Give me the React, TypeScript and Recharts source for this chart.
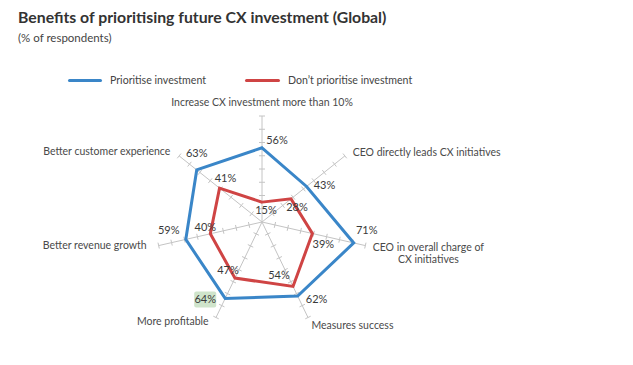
import React from 'react';
import { RadarChart, Radar, PolarAngleAxis, PolarRadiusAxis, Legend } from 'recharts';

const categories = [
  'Increase CX investment more than 10%',
  'CEO directly leads CX initiatives',
  'CEO in overall charge of\nCX initiatives',
  'Measures success',
  'More profitable',
  'Better revenue growth',
  'Better customer experience',
];
const prioritise = [56, 43, 71, 62, 64, 59, 63];
const dontPrioritise = [15, 28, 39, 54, 47, 40, 41];
const radiusTicks = [10, 20, 30, 40, 50, 60, 70, 80];
const seriesNames = ['Prioritise investment', 'Don\u2019t prioritise investment'];

const data = categories.map((c, i) => {
  const row: any = { cat: c, a: prioritise[i], b: dontPrioritise[i] };
  radiusTicks.forEach((t) => {
    row[`t${t}`] = t;
  });
  return row;
});

const FONT = "Lato, 'Open Sans', sans-serif";
const BLUE = '#3a86c8';
const RED = '#cf4444';
const TEXT = '#3a3a3a';
const AXIS = '#c4c4c4';

const CX = 262;
const CY = 222;
const R = 106;

const blueOffsets = [[15, -8], [18, -1], [13, -13], [19, 3], [-20, 1], [-17, -9], [0, -17]];
const redOffsets = [[4, 8], [6, 8], [11, 11], [-14, -11], [-7, -8], [-5, -7], [6, -10]];
const catOffsets: Array<{ dx: number; dy: number; anchor: 'start' | 'middle' | 'end' }> = [
  { dx: 0, dy: -13, anchor: 'middle' },
  { dx: 7, dy: -3, anchor: 'start' },
  { dx: 62, dy: 2, anchor: 'middle' },
  { dx: 3, dy: 7, anchor: 'start' },
  { dx: -7, dy: 3, anchor: 'end' },
  { dx: -11, dy: 0, anchor: 'end' },
  { dx: -8, dy: -4, anchor: 'end' },
];

const makeTickShape = (isOuter: boolean) => (props: any) => {
  const pts: any[] = props.points || [];
  return (
    <g>
      {pts.map((p, i) => {
        const rad = (p.angle * Math.PI) / 180;
        const px = Math.sin(rad) * 3;
        const py = Math.cos(rad) * 3;
        return (
          <g key={i}>
            {isOuter && (
              <line x1={p.cx} y1={p.cy} x2={p.x} y2={p.y} stroke={AXIS} strokeWidth={1} />
            )}
            <line x1={p.x - px} y1={p.y - py} x2={p.x + px} y2={p.y + py} stroke={AXIS} strokeWidth={1} />
          </g>
        );
      })}
    </g>
  );
};

const makeDot = (values: number[], offsets: number[][], highlight?: number) => (props: any) => {
  const { cx, cy, index } = props;
  const [dx, dy] = offsets[index];
  const tx = cx + dx;
  const ty = cy + dy;
  return (
    <g key={`d-${index}`}>
      {highlight === index && (
        <rect x={tx - 11} y={ty - 8} width={22} height={16} rx={2} fill="#cfe4cb" />
      )}
      <text x={tx} y={ty} dy="0.35em" textAnchor="middle" fontSize={11} fill={TEXT} fontFamily={FONT}>
        {values[index]}%
      </text>
    </g>
  );
};

const AngleTick = (props: any) => {
  const { x, y, index } = props;
  const o = catOffsets[index];
  const lines = categories[index].split('\n');
  return (
    <text x={x + o.dx} y={y + o.dy} textAnchor={o.anchor} fontSize={10.5} fill="#4a4a4a" fontFamily={FONT}>
      {lines.map((l, k) => (
        <tspan key={k} x={x + o.dx} dy={k === 0 ? '0.35em' : '1.1em'}>
          {l}
        </tspan>
      ))}
    </text>
  );
};

const LegendContent = () => (
  <div style={{ display: 'flex', alignItems: 'center', fontFamily: FONT, fontSize: 10.6, color: '#444' }}>
    <div style={{ width: 34, height: 3, background: BLUE, borderRadius: 2, marginRight: 8 }} />
    <span style={{ display: 'inline-block', width: 135 }}>{seriesNames[0]}</span>
    <div style={{ width: 35, height: 3, background: RED, borderRadius: 2, marginRight: 8 }} />
    <span>{seriesNames[1]}</span>
  </div>
);

export default function App() {
  return (
    <div style={{ position: 'absolute', left: 0, top: 0, width: 633, height: 365, background: '#fff' }}>
      <div style={{ position: 'absolute', left: 18, top: 7, fontFamily: FONT, fontWeight: 700, fontSize: 15.8, color: '#333', whiteSpace: 'nowrap' }}>
        Benefits of prioritising future CX investment (Global)
      </div>
      <div style={{ position: 'absolute', left: 18, top: 31, fontFamily: FONT, fontSize: 11.5, color: '#444', whiteSpace: 'nowrap' }}>
        (% of respondents)
      </div>
      <RadarChart width={633} height={365} data={data} cx={CX} cy={CY} outerRadius={R} margin={{ top: 0, right: 0, bottom: 0, left: 0 }}>
        <PolarRadiusAxis domain={[0, 80]} type="number" tick={false} axisLine={false} />
        <PolarAngleAxis dataKey="cat" tick={AngleTick} tickLine={false} axisLine={false} tickSize={1} />
        {radiusTicks.map((t) => (
          <Radar
            key={t}
            dataKey={`t${t}`}
            legendType="none"
            stroke="none"
            fill="none"
            dot={false}
            shape={makeTickShape(t === radiusTicks[radiusTicks.length - 1])}
            isAnimationActive={false}
          />
        ))}
        <Legend
          content={<LegendContent />}
          wrapperStyle={{ position: 'absolute', left: 68, top: 74, width: 420 }}
        />
        <Radar
          dataKey="a"
          name={seriesNames[0]}
          stroke={BLUE}
          strokeWidth={3}
          fill="none"
          fillOpacity={0}
          dot={makeDot(prioritise, blueOffsets, 4)}
          isAnimationActive={false}
        />
        <Radar
          dataKey="b"
          name={seriesNames[1]}
          stroke={RED}
          strokeWidth={3}
          fill="none"
          fillOpacity={0}
          dot={makeDot(dontPrioritise, redOffsets)}
          isAnimationActive={false}
        />
      </RadarChart>
    </div>
  );
}
